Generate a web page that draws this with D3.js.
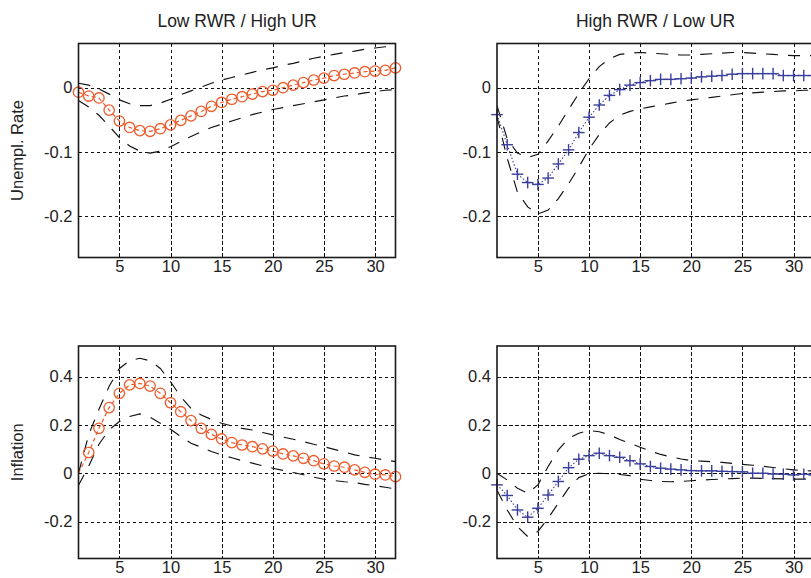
<!DOCTYPE html>
<html><head><meta charset="utf-8">
<script src="https://cdn.jsdelivr.net/npm/d3@7"></script>
<style>
html,body{margin:0;padding:0;background:#fff;overflow:hidden}
text{font-family:"Liberation Sans",Arial,Helvetica,sans-serif;fill:#222}
</style></head>
<body>
<svg id="c" width="811" height="578"></svg>
<script>
// ---- data ----
const steps = d3.range(1, 33);
const xTicks = [5, 10, 15, 20, 25, 30];
const urTicks = [-0.2, -0.1, 0];
const infTicks = [-0.2, 0, 0.2, 0.4];
const colTitles = ["Low RWR / High UR", "High RWR / Low UR"];
const rowTitles = ["Unempl. Rate", "Inflation"];

// Low RWR / High UR : unemployment
const urLowMid = [-0.007,-0.013,-0.016,-0.035,-0.052,-0.062,-0.067,-0.068,-0.064,-0.058,-0.051,-0.044,-0.037,-0.029,-0.023,-0.018,-0.014,-0.010,-0.006,-0.004,0.000,0.004,0.008,0.012,0.015,0.019,0.021,0.023,0.025,0.026,0.027,0.031];
const urLowUp  = [0.007,0.004,-0.002,-0.010,-0.019,-0.025,-0.028,-0.028,-0.024,-0.018,-0.011,-0.005,0.001,0.007,0.012,0.016,0.020,0.024,0.028,0.031,0.035,0.038,0.042,0.046,0.049,0.052,0.055,0.057,0.060,0.062,0.064,0.066];
const urLowLo  = [-0.020,-0.030,-0.043,-0.060,-0.078,-0.091,-0.099,-0.102,-0.099,-0.092,-0.084,-0.076,-0.069,-0.062,-0.057,-0.052,-0.047,-0.042,-0.038,-0.034,-0.031,-0.028,-0.025,-0.022,-0.019,-0.016,-0.013,-0.011,-0.008,-0.006,-0.004,-0.003];

// High RWR / Low UR : unemployment
const urHighMid = [-0.042,-0.089,-0.135,-0.148,-0.151,-0.141,-0.119,-0.097,-0.070,-0.046,-0.027,-0.012,-0.003,0.004,0.008,0.011,0.013,0.013,0.014,0.015,0.017,0.018,0.019,0.021,0.022,0.022,0.022,0.022,0.019,0.019,0.019,0.019];
const urHighUp  = [-0.028,-0.080,-0.102,-0.109,-0.104,-0.083,-0.060,-0.034,-0.009,0.014,0.033,0.045,0.052,0.054,0.055,0.054,0.053,0.052,0.051,0.051,0.052,0.053,0.054,0.055,0.055,0.054,0.053,0.052,0.051,0.050,0.050,0.050];
const urHighLo  = [-0.045,-0.110,-0.163,-0.186,-0.197,-0.191,-0.173,-0.150,-0.124,-0.096,-0.073,-0.055,-0.043,-0.037,-0.033,-0.030,-0.027,-0.024,-0.021,-0.019,-0.017,-0.015,-0.013,-0.011,-0.009,-0.008,-0.007,-0.006,-0.005,-0.005,-0.004,-0.004];

// Low RWR / High UR : inflation
const infLowMid = [0.000,0.086,0.186,0.272,0.331,0.366,0.372,0.361,0.331,0.292,0.255,0.218,0.186,0.161,0.142,0.127,0.117,0.110,0.101,0.092,0.080,0.072,0.062,0.052,0.039,0.030,0.025,0.014,0.004,-0.004,-0.007,-0.014];
const infLowUp  = [0.000,0.160,0.265,0.360,0.434,0.466,0.476,0.466,0.434,0.379,0.317,0.269,0.241,0.223,0.207,0.196,0.186,0.179,0.169,0.159,0.150,0.141,0.131,0.120,0.110,0.099,0.088,0.076,0.069,0.062,0.055,0.048];
const infLowLo  = [-0.050,0.030,0.120,0.180,0.214,0.235,0.246,0.232,0.207,0.182,0.152,0.124,0.108,0.090,0.076,0.064,0.052,0.042,0.031,0.021,0.012,0.003,-0.006,-0.016,-0.025,-0.030,-0.035,-0.039,-0.046,-0.052,-0.058,-0.065];

// High RWR / Low UR : inflation
const infHighMid = [-0.048,-0.092,-0.152,-0.182,-0.145,-0.090,-0.034,0.023,0.058,0.073,0.083,0.073,0.066,0.052,0.039,0.028,0.021,0.017,0.014,0.011,0.010,0.010,0.008,0.007,0.006,0.000,0.000,-0.003,-0.004,-0.007,-0.004,-0.007];
const infHighUp  = [0.000,-0.028,-0.062,-0.083,-0.048,0.028,0.097,0.145,0.166,0.177,0.172,0.159,0.140,0.124,0.108,0.092,0.078,0.068,0.059,0.052,0.050,0.048,0.045,0.041,0.037,0.033,0.029,0.024,0.019,0.014,0.011,0.009];
const infHighLo  = [-0.070,-0.152,-0.221,-0.262,-0.241,-0.186,-0.124,-0.062,-0.018,-0.002,0.000,-0.002,-0.005,-0.010,-0.025,-0.030,-0.034,-0.035,-0.034,-0.031,-0.028,-0.026,-0.024,-0.022,-0.020,-0.020,-0.021,-0.022,-0.023,-0.024,-0.024,-0.024];

// ---- layout ----
const svg = d3.select("#c");
const RED = "#ef5a2a", BLUE = "#3a3f9c";
const cols = [{l:78.5, r:395.5}, {l:497, r:814}];
const rows = [{t:43.5, b:257.5, dom:[-0.265, 0.069], ticks:urTicks},
              {t:346, b:558.5, dom:[-0.353, 0.527], ticks:infTicks}];
const panels = [
  {r:0, c:0, mid:urLowMid,  up:urLowUp,  lo:urLowLo,  kind:"o", first:1},
  {r:0, c:1, mid:urHighMid, up:urHighUp, lo:urHighLo, kind:"+", first:1},
  {r:1, c:0, mid:infLowMid, up:infLowUp, lo:infLowLo, kind:"o", first:2},
  {r:1, c:1, mid:infHighMid,up:infHighUp,lo:infHighLo,kind:"+", first:1}
];
const fmt = v => v === 0 ? "0" : d3.format(".1f")(v).replace("−","-");
const TICKFONT = 16.5;

panels.forEach(p => {
  const C = cols[p.c], R = rows[p.r];
  const x = d3.scaleLinear().domain([1, 32]).range([C.l, C.r]);
  const y = d3.scaleLinear().domain(R.dom).range([R.b, R.t]);
  const g = svg.append("g");
  const clipId = "clip" + p.r + p.c;
  g.append("clipPath").attr("id", clipId).append("rect")
    .attr("x", C.l).attr("y", R.t).attr("width", C.r - C.l).attr("height", R.b - R.t);

  // grid
  const grid = g.append("g").attr("stroke", "#111").attr("stroke-width", 1)
    .attr("stroke-dasharray", "3.5,2.5").attr("shape-rendering", "crispEdges");
  grid.selectAll(".gx").data(xTicks).join("line")
    .attr("x1", d => Math.round(x(d)) + 0.5).attr("x2", d => Math.round(x(d)) + 0.5)
    .attr("y1", R.t).attr("y2", R.b);
  grid.selectAll(".gy").data(R.ticks).join("line")
    .attr("y1", d => Math.round(y(d)) + 0.5).attr("y2", d => Math.round(y(d)) + 0.5)
    .attr("x1", C.l).attr("x2", C.r);

  // bands
  const line = arr => d3.line().x((d, i) => x(steps[i])).y(d => y(d))(arr);
  const bands = g.append("g").attr("clip-path", `url(#${clipId})`);
  [p.up, p.lo].forEach(arr => {
    bands.append("path").attr("d", line(arr)).attr("fill", "none")
      .attr("stroke", "#111").attr("stroke-width", 1.15).attr("stroke-dasharray", "12,10");
  });

  // center line
  const col = p.kind === "o" ? RED : BLUE;
  bands.append("path").attr("d", line(p.mid)).attr("fill", "none")
    .attr("stroke", col).attr("stroke-width", p.kind === "o" ? 1.2 : 1.1)
    .attr("stroke-dasharray", p.kind === "o" ? "4,3" : "1.5,2");

  const pts = steps.map((s, i) => ({s, v: p.mid[i]})).filter(d => d.s >= p.first);
  if (p.kind === "o") {
    g.selectAll(".mk").data(pts).join("circle")
      .attr("cx", d => x(d.s)).attr("cy", d => y(d.v)).attr("r", 5.2)
      .attr("fill", "none").attr("stroke", col).attr("stroke-width", 1.3);
  } else {
    const mk = g.selectAll(".mk").data(pts).join("g")
      .attr("transform", d => `translate(${x(d.s)},${y(d.v)})`);
    mk.append("line").attr("x1", -5.8).attr("x2", 5.8).attr("y1", 0).attr("y2", 0)
      .attr("stroke", col).attr("stroke-width", 1.4);
    mk.append("line").attr("y1", -5.8).attr("y2", 5.8).attr("x1", 0).attr("x2", 0)
      .attr("stroke", col).attr("stroke-width", 1.4);
  }

  // frame
  g.append("rect").attr("x", C.l).attr("y", R.t).attr("width", C.r - C.l).attr("height", R.b - R.t)
    .attr("fill", "none").attr("stroke", "#1a1a1a").attr("stroke-width", 1.6);

  // tick labels via axes
  const ax = g.append("g").attr("transform", `translate(0,${R.b})`)
    .call(d3.axisBottom(x).tickValues(xTicks).tickSize(0).tickPadding(3));
  ax.select(".domain").remove();
  ax.selectAll("text").attr("font-size", TICKFONT).attr("fill", "#222")
    .style("font-family", '"Liberation Sans",Arial,sans-serif');
  const ay = g.append("g").attr("transform", `translate(${C.l},0)`)
    .call(d3.axisLeft(y).tickValues(R.ticks).tickFormat(fmt).tickSize(0).tickPadding(6));
  ay.select(".domain").remove();
  ay.selectAll("text").attr("font-size", TICKFONT).attr("fill", "#222")
    .style("font-family", '"Liberation Sans",Arial,sans-serif');
});

// titles
cols.forEach((C, i) => {
  svg.append("text").attr("x", (C.l + C.r) / 2).attr("y", 27).attr("text-anchor", "middle")
    .attr("font-size", 17.5).text(colTitles[i]);
});
rows.forEach((R, i) => {
  const cy = (R.t + R.b) / 2;
  svg.append("text").attr("transform", `translate(23,${cy}) rotate(-90)`)
    .attr("text-anchor", "middle").attr("font-size", 16.5).text(rowTitles[i]);
});
</script>
</body></html>
